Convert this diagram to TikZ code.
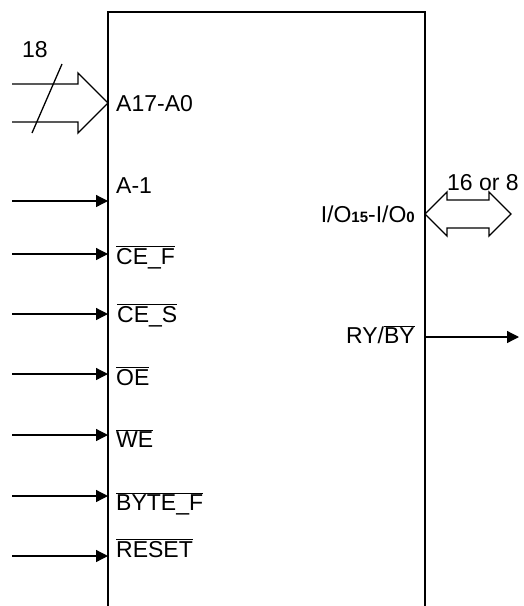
\documentclass[tikz,border=0pt]{standalone}
\usepackage{fontspec}
\setmainfont{Liberation Sans}
\usetikzlibrary{arrows.meta}

\newcommand{\nbar}[1]{$\overline{\mbox{#1}}$}
\newcommand{\iosub}[1]{{\fontsize{15}{17}\selectfont\bfseries #1}}

\begin{document}
\begin{tikzpicture}[x=1pt,y=-1pt]
  \tikzstyle{lbl} = [font=\fontsize{23}{27}\selectfont, inner sep=0pt, anchor=base west]
  \tikzstyle{rlbl} = [lbl, anchor=base east]
  \tikzstyle{sig} = [line width=1.3pt, -{Triangle[length=12pt,width=12pt]}]
  \tikzstyle{bus} = [line width=1.3pt, line join=miter]

  \useasboundingbox (0,0) rectangle (523,606);
  \draw[line width=1.8pt] (108,606) -- (108,12) -- (425,12) -- (425,606);

  \draw (116,111) node[lbl] (Aaddr) {A17-A0} (116,193) node[lbl] (Am1) {A-1} (116,264) node[lbl] (CEF) {\nbar{CE\_F}} (117,322) node[lbl] (CES) {\nbar{CE\_S}} (116,385) node[lbl] (OE) {\nbar{OE}} (116,447) node[lbl] (WE) {\nbar{WE}} (116,510) node[lbl] (BYTEF) {\nbar{BYTE\_F}} (116,557) node[lbl] (RESET) {\nbar{RESET}};
  \draw (415,222) node[rlbl] (IO) {I/O\iosub{15}-I/O\iosub{0}} (415,343) node[rlbl] (RYBY) {RY/\nbar{BY}};

  \coordinate (busL) at (108,103);
  \draw[bus] (12,84) -- (78,84) -- (78,73) -- (busL) -- (78,133) -- (78,122) -- (12,122);
  \draw[bus] (62,64) -- (32,133);
  \node[lbl] (nAddr) at (22,57) {18};

  \coordinate (busR) at (425,214);
  \draw[bus] (busR) -- (447,192) -- (447,200) -- (489,200) -- (489,192) -- (511,214) -- (489,236) -- (489,228) -- (447,228) -- (447,236) -- cycle;
  \node[lbl] (nIO) at (447,190) {16 or 8};

  \coordinate (sAm1) at (12,201);   \coordinate (eAm1) at (108,201);
  \coordinate (sCEF) at (12,254);   \coordinate (eCEF) at (108,254);
  \coordinate (sCES) at (12,314);   \coordinate (eCES) at (108,314);
  \coordinate (sOE) at (12,374);    \coordinate (eOE) at (108,374);
  \coordinate (sWE) at (12,435);    \coordinate (eWE) at (108,435);
  \coordinate (sBYTEF) at (12,496); \coordinate (eBYTEF) at (108,496);
  \coordinate (sRESET) at (12,556); \coordinate (eRESET) at (108,556);
  \coordinate (sRY) at (425,337);   \coordinate (eRY) at (519,337);

  \draw[sig] (sAm1) -- (eAm1);
  \draw[sig] (sCEF) -- (eCEF);
  \draw[sig] (sCES) -- (eCES);
  \draw[sig] (sOE) -- (eOE);
  \draw[sig] (sWE) -- (eWE);
  \draw[sig] (sBYTEF) -- (eBYTEF);
  \draw[sig] (sRESET) -- (eRESET);
  \draw[sig] (sRY) -- (eRY);
\end{tikzpicture}
\end{document}
